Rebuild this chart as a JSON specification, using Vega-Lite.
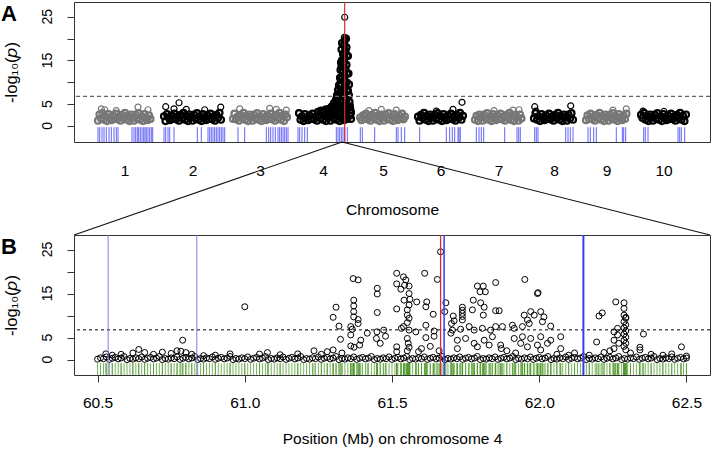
{
"$schema": "https://vega.github.io/schema/vega-lite/v6.json",
"padding": {"left": 0, "top": 0, "right": 1, "bottom": 4},
"background": "white",
"spacing": 93,
"bounds": "flush",
"resolve": {"scale": {"color": "independent", "strokeWidth": "independent"}},
"config": {
 "font": "Liberation Sans",
 "view": {"stroke": "#333", "strokeWidth": 1},
 "axis": {"grid": false, "domain": false, "labelColor": "#000", "titleColor": "#000", "tickColor": "#333", "labelFontSize": 15.5, "titleFontSize": 15.5, "titleFontWeight": "normal", "tickSize": 7, "labelFlush": false, "labelOverlap": false},
 "axisX": {"labelBaseline": "top"},
 "axisY": {"tickCount": 6, "labels": false, "titleX": -63, "titleBaseline": "middle", "titleAngle": -90, "titleFontSize": 16.5},
 "title": {"anchor": "start", "frame": "group", "fontSize": 22, "fontWeight": "bold", "color": "#000", "dx": -73, "dy": 22, "offset": -3, "baseline": "top"}
},
"datasets": {
 "yLabels": [{"v": 0, "t": "0"}, {"v": 5, "t": "5"}, {"v": 15, "t": "15"}, {"v": 25, "t": "25"}],
 "gwasBulk": [
  {"x":24,"y":1.2,"c":1},{"x":25.5,"y":2.6,"c":1},{"x":27,"y":1.7,"c":1},{"x":28.5,"y":2.9,"c":1},{"x":30,"y":1.4,"c":1},{"x":31.5,"y":2.2,"c":1},{"x":33,"y":1.1,"c":1},{"x":34.5,"y":2.7,"c":1},{"x":36,"y":1.9,"c":1},{"x":37.5,"y":1.3,"c":1},{"x":39,"y":2.4,"c":1},{"x":40.5,"y":1.6,"c":1},{"x":42,"y":2.8,"c":1},{"x":43.5,"y":1.5,"c":1},{"x":45,"y":2.1,"c":1},{"x":46.5,"y":1.2,"c":1},{"x":48,"y":2.5,"c":1},{"x":49.5,"y":1.8,"c":1},{"x":51,"y":3.0,"c":1},{"x":52.5,"y":1.4,"c":1},{"x":54,"y":2.3,"c":1},{"x":55.5,"y":1.1,"c":1},{"x":57,"y":2.6,"c":1},{"x":58.5,"y":2.0,"c":1},{"x":60,"y":1.2,"c":1},{"x":61.5,"y":2.6,"c":1},{"x":63,"y":1.7,"c":1},{"x":64.5,"y":2.9,"c":1},{"x":66,"y":1.4,"c":1},{"x":67.5,"y":2.2,"c":1},{"x":69,"y":1.1,"c":1},{"x":70.5,"y":2.7,"c":1},{"x":72,"y":1.9,"c":1},{"x":73.5,"y":1.3,"c":1},{"x":75,"y":2.4,"c":1},{"x":76.5,"y":1.6,"c":1},
  {"x":90,"y":2.2,"c":2},{"x":91.5,"y":1.1,"c":2},{"x":93,"y":2.7,"c":2},{"x":94.5,"y":1.9,"c":2},{"x":96,"y":1.3,"c":2},{"x":97.5,"y":2.4,"c":2},{"x":99,"y":1.6,"c":2},{"x":100.5,"y":2.8,"c":2},{"x":102,"y":1.5,"c":2},{"x":103.5,"y":2.1,"c":2},{"x":105,"y":1.2,"c":2},{"x":106.5,"y":2.5,"c":2},{"x":108,"y":1.8,"c":2},{"x":109.5,"y":3.0,"c":2},{"x":111,"y":1.4,"c":2},{"x":112.5,"y":2.3,"c":2},{"x":114,"y":1.1,"c":2},{"x":115.5,"y":2.6,"c":2},{"x":117,"y":2.0,"c":2},{"x":118.5,"y":1.2,"c":2},{"x":120,"y":2.6,"c":2},{"x":121.5,"y":1.7,"c":2},{"x":123,"y":2.9,"c":2},{"x":124.5,"y":1.4,"c":2},{"x":126,"y":2.2,"c":2},{"x":127.5,"y":1.1,"c":2},{"x":129,"y":2.7,"c":2},{"x":130.5,"y":1.9,"c":2},{"x":132,"y":1.3,"c":2},{"x":133.5,"y":2.4,"c":2},{"x":135,"y":1.6,"c":2},{"x":136.5,"y":2.8,"c":2},{"x":138,"y":1.5,"c":2},{"x":139.5,"y":2.1,"c":2},{"x":141,"y":1.2,"c":2},{"x":142.5,"y":2.5,"c":2},{"x":144,"y":1.8,"c":2},{"x":145.5,"y":3.0,"c":2},{"x":147,"y":1.4,"c":2},
  {"x":159,"y":1.6,"c":3},{"x":160.5,"y":2.8,"c":3},{"x":162,"y":1.5,"c":3},{"x":163.5,"y":2.1,"c":3},{"x":165,"y":1.2,"c":3},{"x":166.5,"y":2.5,"c":3},{"x":168,"y":1.8,"c":3},{"x":169.5,"y":3.0,"c":3},{"x":171,"y":1.4,"c":3},{"x":172.5,"y":2.3,"c":3},{"x":174,"y":1.1,"c":3},{"x":175.5,"y":2.6,"c":3},{"x":177,"y":2.0,"c":3},{"x":178.5,"y":1.2,"c":3},{"x":180,"y":2.6,"c":3},{"x":181.5,"y":1.7,"c":3},{"x":183,"y":2.9,"c":3},{"x":184.5,"y":1.4,"c":3},{"x":186,"y":2.2,"c":3},{"x":187.5,"y":1.1,"c":3},{"x":189,"y":2.7,"c":3},{"x":190.5,"y":1.9,"c":3},{"x":192,"y":1.3,"c":3},{"x":193.5,"y":2.4,"c":3},{"x":195,"y":1.6,"c":3},{"x":196.5,"y":2.8,"c":3},{"x":198,"y":1.5,"c":3},{"x":199.5,"y":2.1,"c":3},{"x":201,"y":1.2,"c":3},{"x":202.5,"y":2.5,"c":3},{"x":204,"y":1.8,"c":3},{"x":205.5,"y":3.0,"c":3},{"x":207,"y":1.4,"c":3},{"x":208.5,"y":2.3,"c":3},{"x":210,"y":1.1,"c":3},{"x":211.5,"y":2.6,"c":3},{"x":213,"y":2.0,"c":3},
  {"x":225,"y":2.9,"c":4},{"x":226.5,"y":1.4,"c":4},{"x":228,"y":2.2,"c":4},{"x":229.5,"y":1.1,"c":4},{"x":231,"y":2.7,"c":4},{"x":232.5,"y":1.9,"c":4},{"x":234,"y":1.3,"c":4},{"x":235.5,"y":2.4,"c":4},{"x":237,"y":1.6,"c":4},{"x":238.5,"y":2.8,"c":4},{"x":240,"y":1.5,"c":4},{"x":241.5,"y":2.1,"c":4},{"x":243,"y":1.2,"c":4},{"x":244.5,"y":2.5,"c":4},{"x":246,"y":1.8,"c":4},{"x":247.5,"y":3.0,"c":4},{"x":249,"y":1.4,"c":4},{"x":250.5,"y":2.3,"c":4},{"x":252,"y":1.1,"c":4},{"x":253.5,"y":2.6,"c":4},{"x":255,"y":2.0,"c":4},{"x":256.5,"y":1.2,"c":4},{"x":258,"y":2.6,"c":4},{"x":259.5,"y":1.7,"c":4},{"x":261,"y":2.9,"c":4},{"x":262.5,"y":1.4,"c":4},{"x":264,"y":2.2,"c":4},{"x":265.5,"y":1.1,"c":4},{"x":267,"y":2.7,"c":4},{"x":268.5,"y":1.9,"c":4},{"x":270,"y":1.3,"c":4},{"x":271.5,"y":2.4,"c":4},{"x":273,"y":1.6,"c":4},
  {"x":244,"y":3.2,"c":4},{"x":247,"y":3.5,"c":4},{"x":250,"y":3.3,"c":4},{"x":252,"y":3.8,"c":4},{"x":254,"y":3.4,"c":4},{"x":256,"y":4.0,"c":4},{"x":257.5,"y":3.6,"c":4},
  {"x":258,"y":4.5,"c":4},{"x":259,"y":3.8,"c":4},{"x":260,"y":5.2,"c":4},{"x":261,"y":4.4,"c":4},{"x":262,"y":6.0,"c":4},{"x":262.5,"y":5.0,"c":4},{"x":263,"y":7.0,"c":4},{"x":263.5,"y":5.8,"c":4},{"x":264,"y":8.2,"c":4},{"x":264.5,"y":6.8,"c":4},{"x":265,"y":9.3,"c":4},{"x":265.5,"y":7.5,"c":4},{"x":266,"y":11.0,"c":4},{"x":266,"y":9.5,"c":4},{"x":266.5,"y":12.8,"c":4},{"x":266.5,"y":8.0,"c":4},{"x":267,"y":14.5,"c":4},{"x":267,"y":6.0,"c":4},{"x":259,"y":2.5,"c":4},{"x":261,"y":3.2,"c":4},{"x":263,"y":3.6,"c":4},{"x":264,"y":4.4,"c":4},{"x":265,"y":3.0,"c":4},{"x":266,"y":4.2,"c":4},
  {"x":268,"y":3.0,"c":4},{"x":270.5,"y":3.5,"c":4},{"x":273,"y":4.0,"c":4},{"x":269,"y":4.5,"c":4},{"x":271.5,"y":5.0,"c":4},{"x":267.5,"y":5.5,"c":4},{"x":272.5,"y":6.0,"c":4},{"x":270,"y":6.5,"c":4},{"x":268,"y":7.0,"c":4},{"x":270.5,"y":7.5,"c":4},{"x":273,"y":8.0,"c":4},{"x":269,"y":8.5,"c":4},{"x":271.5,"y":9.0,"c":4},{"x":267.5,"y":9.5,"c":4},{"x":272.5,"y":10.0,"c":4},{"x":270,"y":10.5,"c":4},{"x":268,"y":11.0,"c":4},{"x":270.5,"y":11.5,"c":4},{"x":273,"y":12.0,"c":4},{"x":269,"y":12.5,"c":4},{"x":271.5,"y":13.0,"c":4},{"x":267.5,"y":13.5,"c":4},{"x":272.5,"y":14.0,"c":4},{"x":270,"y":14.5,"c":4},{"x":268,"y":15.0,"c":4},{"x":270.5,"y":15.5,"c":4},{"x":273,"y":16.0,"c":4},{"x":269,"y":16.5,"c":4},{"x":271.5,"y":17.0,"c":4},{"x":267.5,"y":17.5,"c":4},{"x":272.5,"y":18.0,"c":4},{"x":270,"y":18.5,"c":4},{"x":268,"y":19.0,"c":4},{"x":270.5,"y":19.5,"c":4},{"x":272,"y":20.0,"c":4},
  {"x":274,"y":16,"c":4},{"x":274.5,"y":12,"c":4},{"x":275,"y":9.5,"c":4},{"x":275,"y":7.0,"c":4},{"x":275.5,"y":5.5,"c":4},{"x":276,"y":4.5,"c":4},{"x":276.5,"y":3.6,"c":4},{"x":277,"y":3.0,"c":4},{"x":274,"y":8,"c":4},{"x":274.5,"y":4.2,"c":4},{"x":276,"y":2.4,"c":4},{"x":277,"y":1.6,"c":4},
  {"x":286,"y":1.9,"c":5},{"x":287.5,"y":1.3,"c":5},{"x":289,"y":2.4,"c":5},{"x":290.5,"y":1.6,"c":5},{"x":292,"y":2.8,"c":5},{"x":293.5,"y":1.5,"c":5},{"x":295,"y":2.1,"c":5},{"x":296.5,"y":1.2,"c":5},{"x":298,"y":2.5,"c":5},{"x":299.5,"y":1.8,"c":5},{"x":301,"y":3.0,"c":5},{"x":302.5,"y":1.4,"c":5},{"x":304,"y":2.3,"c":5},{"x":305.5,"y":1.1,"c":5},{"x":307,"y":2.6,"c":5},{"x":308.5,"y":2.0,"c":5},{"x":310,"y":1.2,"c":5},{"x":311.5,"y":2.6,"c":5},{"x":313,"y":1.7,"c":5},{"x":314.5,"y":2.9,"c":5},{"x":316,"y":1.4,"c":5},{"x":317.5,"y":2.2,"c":5},{"x":319,"y":1.1,"c":5},{"x":320.5,"y":2.7,"c":5},{"x":322,"y":1.9,"c":5},{"x":323.5,"y":1.3,"c":5},{"x":325,"y":2.4,"c":5},{"x":326.5,"y":1.6,"c":5},{"x":328,"y":2.8,"c":5},{"x":329.5,"y":1.5,"c":5},{"x":331,"y":2.1,"c":5},
  {"x":344,"y":2.1,"c":6},{"x":345.5,"y":1.2,"c":6},{"x":347,"y":2.5,"c":6},{"x":348.5,"y":1.8,"c":6},{"x":350,"y":3.0,"c":6},{"x":351.5,"y":1.4,"c":6},{"x":353,"y":2.3,"c":6},{"x":354.5,"y":1.1,"c":6},{"x":356,"y":2.6,"c":6},{"x":357.5,"y":2.0,"c":6},{"x":359,"y":1.2,"c":6},{"x":360.5,"y":2.6,"c":6},{"x":362,"y":1.7,"c":6},{"x":363.5,"y":2.9,"c":6},{"x":365,"y":1.4,"c":6},{"x":366.5,"y":2.2,"c":6},{"x":368,"y":1.1,"c":6},{"x":369.5,"y":2.7,"c":6},{"x":371,"y":1.9,"c":6},{"x":372.5,"y":1.3,"c":6},{"x":374,"y":2.4,"c":6},{"x":375.5,"y":1.6,"c":6},{"x":377,"y":2.8,"c":6},{"x":378.5,"y":1.5,"c":6},{"x":380,"y":2.1,"c":6},{"x":381.5,"y":1.2,"c":6},{"x":383,"y":2.5,"c":6},{"x":384.5,"y":1.8,"c":6},{"x":386,"y":3.0,"c":6},{"x":387.5,"y":1.4,"c":6},{"x":389,"y":2.3,"c":6},
  {"x":401,"y":1.4,"c":7},{"x":402.5,"y":2.3,"c":7},{"x":404,"y":1.1,"c":7},{"x":405.5,"y":2.6,"c":7},{"x":407,"y":2.0,"c":7},{"x":408.5,"y":1.2,"c":7},{"x":410,"y":2.6,"c":7},{"x":411.5,"y":1.7,"c":7},{"x":413,"y":2.9,"c":7},{"x":414.5,"y":1.4,"c":7},{"x":416,"y":2.2,"c":7},{"x":417.5,"y":1.1,"c":7},{"x":419,"y":2.7,"c":7},{"x":420.5,"y":1.9,"c":7},{"x":422,"y":1.3,"c":7},{"x":423.5,"y":2.4,"c":7},{"x":425,"y":1.6,"c":7},{"x":426.5,"y":2.8,"c":7},{"x":428,"y":1.5,"c":7},{"x":429.5,"y":2.1,"c":7},{"x":431,"y":1.2,"c":7},{"x":432.5,"y":2.5,"c":7},{"x":434,"y":1.8,"c":7},{"x":435.5,"y":3.0,"c":7},{"x":437,"y":1.4,"c":7},{"x":438.5,"y":2.3,"c":7},{"x":440,"y":1.1,"c":7},{"x":441.5,"y":2.6,"c":7},{"x":443,"y":2.0,"c":7},{"x":444.5,"y":1.2,"c":7},{"x":446,"y":2.6,"c":7},{"x":447.5,"y":1.7,"c":7},
  {"x":460,"y":1.7,"c":8},{"x":461.5,"y":2.9,"c":8},{"x":463,"y":1.4,"c":8},{"x":464.5,"y":2.2,"c":8},{"x":466,"y":1.1,"c":8},{"x":467.5,"y":2.7,"c":8},{"x":469,"y":1.9,"c":8},{"x":470.5,"y":1.3,"c":8},{"x":472,"y":2.4,"c":8},{"x":473.5,"y":1.6,"c":8},{"x":475,"y":2.8,"c":8},{"x":476.5,"y":1.5,"c":8},{"x":478,"y":2.1,"c":8},{"x":479.5,"y":1.2,"c":8},{"x":481,"y":2.5,"c":8},{"x":482.5,"y":1.8,"c":8},{"x":484,"y":3.0,"c":8},{"x":485.5,"y":1.4,"c":8},{"x":487,"y":2.3,"c":8},{"x":488.5,"y":1.1,"c":8},{"x":490,"y":2.6,"c":8},{"x":491.5,"y":2.0,"c":8},{"x":493,"y":1.2,"c":8},{"x":494.5,"y":2.6,"c":8},{"x":496,"y":1.7,"c":8},{"x":497.5,"y":2.9,"c":8},{"x":499,"y":1.4,"c":8},
  {"x":512,"y":1.3,"c":9},{"x":513.5,"y":2.4,"c":9},{"x":515,"y":1.6,"c":9},{"x":516.5,"y":2.8,"c":9},{"x":518,"y":1.5,"c":9},{"x":519.5,"y":2.1,"c":9},{"x":521,"y":1.2,"c":9},{"x":522.5,"y":2.5,"c":9},{"x":524,"y":1.8,"c":9},{"x":525.5,"y":3.0,"c":9},{"x":527,"y":1.4,"c":9},{"x":528.5,"y":2.3,"c":9},{"x":530,"y":1.1,"c":9},{"x":531.5,"y":2.6,"c":9},{"x":533,"y":2.0,"c":9},{"x":534.5,"y":1.2,"c":9},{"x":536,"y":2.6,"c":9},{"x":537.5,"y":1.7,"c":9},{"x":539,"y":2.9,"c":9},{"x":540.5,"y":1.4,"c":9},{"x":542,"y":2.2,"c":9},{"x":543.5,"y":1.1,"c":9},{"x":545,"y":2.7,"c":9},{"x":546.5,"y":1.9,"c":9},{"x":548,"y":1.3,"c":9},{"x":549.5,"y":2.4,"c":9},{"x":551,"y":1.6,"c":9},{"x":552.5,"y":2.8,"c":9},
  {"x":567,"y":2.5,"c":10},{"x":568.5,"y":1.8,"c":10},{"x":570,"y":3.0,"c":10},{"x":571.5,"y":1.4,"c":10},{"x":573,"y":2.3,"c":10},{"x":574.5,"y":1.1,"c":10},{"x":576,"y":2.6,"c":10},{"x":577.5,"y":2.0,"c":10},{"x":579,"y":1.2,"c":10},{"x":580.5,"y":2.6,"c":10},{"x":582,"y":1.7,"c":10},{"x":583.5,"y":2.9,"c":10},{"x":585,"y":1.4,"c":10},{"x":586.5,"y":2.2,"c":10},{"x":588,"y":1.1,"c":10},{"x":589.5,"y":2.7,"c":10},{"x":591,"y":1.9,"c":10},{"x":592.5,"y":1.3,"c":10},{"x":594,"y":2.4,"c":10},{"x":595.5,"y":1.6,"c":10},{"x":597,"y":2.8,"c":10},{"x":598.5,"y":1.5,"c":10},{"x":600,"y":2.1,"c":10},{"x":601.5,"y":1.2,"c":10},{"x":603,"y":2.5,"c":10},{"x":604.5,"y":1.8,"c":10},{"x":606,"y":3.0,"c":10},{"x":607.5,"y":1.4,"c":10},{"x":609,"y":2.3,"c":10},{"x":610.5,"y":1.1,"c":10},{"x":612,"y":2.6,"c":10}
 ],
 "gwasTop": [
  {"x":27.3,"y":3.9,"c":1},{"x":30.7,"y":3.7,"c":1},{"x":42.3,"y":3.5,"c":1},{"x":64,"y":4.3,"c":1},{"x":74,"y":3.7,"c":1},
  {"x":91.7,"y":4.4,"c":2},{"x":100,"y":3.9,"c":2},{"x":105,"y":5.3,"c":2},{"x":112.3,"y":3.8,"c":2},{"x":130.7,"y":3.7,"c":2},{"x":146.7,"y":4.3,"c":2},
  {"x":165.7,"y":3.9,"c":3},{"x":195.7,"y":4.0,"c":3},{"x":202.3,"y":3.8,"c":3},{"x":212.3,"y":3.6,"c":3},
  {"x":270.7,"y":24.9,"c":4},{"x":270.3,"y":20.3,"c":4},{"x":271,"y":19.8,"c":4},{"x":270.5,"y":18.9,"c":4},{"x":270.8,"y":17.5,"c":4},{"x":270.2,"y":16.0,"c":4},
  {"x":295,"y":3.5,"c":5},{"x":307.3,"y":3.8,"c":5},{"x":322.3,"y":3.6,"c":5},
  {"x":362.3,"y":3.4,"c":6},{"x":379,"y":3.8,"c":6},{"x":388,"y":5.4,"c":6},
  {"x":420,"y":3.5,"c":7},{"x":439,"y":3.6,"c":7},{"x":445,"y":3.7,"c":7},
  {"x":460.7,"y":4.4,"c":8},{"x":462,"y":3.4,"c":8},{"x":496.7,"y":4.6,"c":8},
  {"x":539,"y":3.6,"c":9},{"x":552.3,"y":3.9,"c":9},
  {"x":569,"y":3.4,"c":10},{"x":590,"y":3.3,"c":10}
 ],
 "genesA": [
  {"x":24},{"x":25.7},{"x":28},{"x":30},{"x":32.3},{"x":35},{"x":37.3},{"x":40},{"x":42.3},{"x":44},
  {"x":58},{"x":60},{"x":61.7},{"x":63.3},{"x":64.7},{"x":66.3},{"x":68},{"x":69.7},{"x":71},{"x":72.3},{"x":74},{"x":75.7},{"x":77.3},{"x":78.7},
  {"x":90},{"x":91.7},{"x":94},{"x":95.7},{"x":100},{"x":123.3},{"x":127.3},
  {"x":134},{"x":135.7},{"x":137.3},{"x":139},{"x":140.7},{"x":142.3},{"x":144},{"x":145.7},{"x":147.3},{"x":149},{"x":150.7},
  {"x":164},{"x":170.7},
  {"x":192.3},{"x":194.7},{"x":196.7},{"x":199},{"x":201.3},{"x":204},{"x":205.7},{"x":207.3},{"x":209},{"x":210.7},{"x":212.3},{"x":214},
  {"x":224},{"x":225.7},{"x":228},{"x":230.7},{"x":233.3},
  {"x":262.3},{"x":264},{"x":265.7},{"x":267.3},{"x":269},{"x":270.7},{"x":273.3},
  {"x":286.3},{"x":288.3},{"x":300.7},{"x":322.3},{"x":324},{"x":327.3},{"x":330.7},{"x":345.7},{"x":372.3},{"x":375.7},{"x":378.3},{"x":380.7},{"x":384},{"x":385},{"x":386.3},{"x":402.3},{"x":405},{"x":407.3},{"x":409.7},{"x":430.7},{"x":443},{"x":444.7},{"x":446.3},{"x":460.7},{"x":462.3},{"x":464},{"x":491.7},{"x":494},{"x":496.3},{"x":499},{"x":514},{"x":516.3},{"x":519.7},{"x":522.3},{"x":542.3},{"x":548.3},{"x":549.7},{"x":551.7},{"x":569.7},{"x":571.3},{"x":574},{"x":604},{"x":605.7},{"x":607.3},{"x":610.7}
 ],
 "zoomLines": [
  {"x0":268,"y0":-3.7,"x1":0,"y1":-25.02},
  {"x0":268,"y0":-3.7,"x1":636,"y1":-25.02}
 ],
 "linesB": [
  {"p":60.536,"k":"minor"},{"p":60.837,"k":"minor"},{"p":61.677,"k":"major"},{"p":62.15,"k":"main"}
 ],
 "snps": [
  {"p":60.5,"y":0.1},{"p":60.51,"y":0.4},{"p":60.52,"y":0.2},{"p":60.53,"y":0.6},{"p":60.54,"y":0.05},{"p":60.55,"y":0.3},{"p":60.56,"y":0.5},{"p":60.57,"y":0.15},{"p":60.58,"y":0.35},{"p":60.59,"y":0.7},{"p":60.6,"y":0},{"p":60.61,"y":0.25},
  {"p":60.62,"y":0.1},{"p":60.63,"y":0.4},{"p":60.64,"y":0.2},{"p":60.65,"y":0.6},{"p":60.66,"y":0.05},{"p":60.67,"y":0.3},{"p":60.68,"y":0.5},{"p":60.69,"y":0.15},{"p":60.7,"y":0.35},{"p":60.71,"y":0.7},{"p":60.72,"y":0},{"p":60.73,"y":0.25},
  {"p":60.74,"y":0.1},{"p":60.75,"y":0.4},{"p":60.76,"y":0.2},{"p":60.77,"y":0.6},{"p":60.78,"y":0.05},{"p":60.79,"y":0.3},{"p":60.8,"y":0.5},{"p":60.81,"y":0.15},{"p":60.82,"y":0.35},{"p":60.83,"y":0.7},{"p":60.84,"y":0},{"p":60.85,"y":0.25},
  {"p":60.86,"y":0.1},{"p":60.87,"y":0.4},{"p":60.88,"y":0.2},{"p":60.89,"y":0.6},{"p":60.9,"y":0.05},{"p":60.91,"y":0.3},{"p":60.92,"y":0.5},{"p":60.93,"y":0.15},{"p":60.94,"y":0.35},{"p":60.95,"y":0.7},{"p":60.96,"y":0},{"p":60.97,"y":0.25},
  {"p":60.98,"y":0.1},{"p":60.99,"y":0.4},{"p":61.0,"y":0.2},{"p":61.01,"y":0.6},{"p":61.02,"y":0.05},{"p":61.03,"y":0.3},{"p":61.04,"y":0.5},{"p":61.05,"y":0.15},{"p":61.06,"y":0.35},{"p":61.07,"y":0.7},{"p":61.08,"y":0},{"p":61.09,"y":0.25},
  {"p":61.1,"y":0.1},{"p":61.11,"y":0.4},{"p":61.12,"y":0.2},{"p":61.13,"y":0.6},{"p":61.14,"y":0.05},{"p":61.15,"y":0.3},{"p":61.16,"y":0.5},{"p":61.17,"y":0.15},{"p":61.18,"y":0.35},{"p":61.19,"y":0.7},{"p":61.2,"y":0},{"p":61.21,"y":0.25},
  {"p":61.22,"y":0.1},{"p":61.23,"y":0.4},{"p":61.24,"y":0.2},{"p":61.25,"y":0.6},{"p":61.26,"y":0.05},{"p":61.27,"y":0.3},{"p":61.28,"y":0.5},{"p":61.29,"y":0.15},{"p":61.3,"y":0.35},{"p":61.31,"y":0.7},{"p":61.32,"y":0},{"p":61.33,"y":0.25},
  {"p":61.34,"y":0.1},{"p":61.35,"y":0.4},{"p":61.36,"y":0.2},{"p":61.37,"y":0.6},{"p":61.38,"y":0.05},{"p":61.39,"y":0.3},{"p":61.4,"y":0.5},{"p":61.41,"y":0.15},{"p":61.42,"y":0.35},{"p":61.43,"y":0.7},{"p":61.44,"y":0},{"p":61.45,"y":0.25},
  {"p":61.46,"y":0.1},{"p":61.47,"y":0.4},{"p":61.48,"y":0.2},{"p":61.49,"y":0.6},{"p":61.5,"y":0.05},{"p":61.51,"y":0.3},{"p":61.52,"y":0.5},{"p":61.53,"y":0.15},{"p":61.54,"y":0.35},{"p":61.55,"y":0.7},{"p":61.56,"y":0},{"p":61.57,"y":0.25},
  {"p":61.58,"y":0.1},{"p":61.59,"y":0.4},{"p":61.6,"y":0.2},{"p":61.61,"y":0.6},{"p":61.62,"y":0.05},{"p":61.63,"y":0.3},{"p":61.64,"y":0.5},{"p":61.65,"y":0.15},{"p":61.66,"y":0.35},{"p":61.67,"y":0.7},{"p":61.68,"y":0},{"p":61.69,"y":0.25},
  {"p":61.7,"y":0.1},{"p":61.71,"y":0.4},{"p":61.72,"y":0.2},{"p":61.73,"y":0.6},{"p":61.74,"y":0.05},{"p":61.75,"y":0.3},{"p":61.76,"y":0.5},{"p":61.77,"y":0.15},{"p":61.78,"y":0.35},{"p":61.79,"y":0.7},{"p":61.8,"y":0},{"p":61.81,"y":0.25},
  {"p":61.82,"y":0.1},{"p":61.83,"y":0.4},{"p":61.84,"y":0.2},{"p":61.85,"y":0.6},{"p":61.86,"y":0.05},{"p":61.87,"y":0.3},{"p":61.88,"y":0.5},{"p":61.89,"y":0.15},{"p":61.9,"y":0.35},{"p":61.91,"y":0.7},{"p":61.92,"y":0},{"p":61.93,"y":0.25},
  {"p":61.94,"y":0.1},{"p":61.95,"y":0.4},{"p":61.96,"y":0.2},{"p":61.97,"y":0.6},{"p":61.98,"y":0.05},{"p":61.99,"y":0.3},{"p":62.0,"y":0.5},{"p":62.01,"y":0.15},{"p":62.02,"y":0.35},{"p":62.03,"y":0.7},{"p":62.04,"y":0},{"p":62.05,"y":0.25},
  {"p":62.06,"y":0.1},{"p":62.07,"y":0.4},{"p":62.08,"y":0.2},{"p":62.09,"y":0.6},{"p":62.1,"y":0.05},{"p":62.11,"y":0.3},{"p":62.12,"y":0.5},{"p":62.13,"y":0.15},{"p":62.14,"y":0.35},{"p":62.15,"y":0.7},{"p":62.16,"y":0},{"p":62.17,"y":0.25},
  {"p":62.18,"y":0.1},{"p":62.19,"y":0.4},{"p":62.2,"y":0.2},{"p":62.21,"y":0.6},{"p":62.22,"y":0.05},{"p":62.23,"y":0.3},{"p":62.24,"y":0.5},{"p":62.25,"y":0.15},{"p":62.26,"y":0.35},{"p":62.27,"y":0.7},{"p":62.28,"y":0},{"p":62.29,"y":0.25},
  {"p":62.3,"y":0.1},{"p":62.31,"y":0.4},{"p":62.32,"y":0.2},{"p":62.33,"y":0.6},{"p":62.34,"y":0.05},{"p":62.35,"y":0.3},{"p":62.36,"y":0.5},{"p":62.37,"y":0.15},{"p":62.38,"y":0.35},{"p":62.39,"y":0.7},{"p":62.4,"y":0},{"p":62.41,"y":0.25},
  {"p":62.42,"y":0.1},{"p":62.43,"y":0.4},{"p":62.44,"y":0.2},{"p":62.45,"y":0.6},{"p":62.46,"y":0.05},{"p":62.47,"y":0.3},{"p":62.48,"y":0.5},{"p":62.49,"y":0.15},{"p":62.5,"y":0.35},
  {"p":60.528,"y":1.3},{"p":60.55,"y":1.0},{"p":60.58,"y":1.2},{"p":60.62,"y":1.5},{"p":60.64,"y":2.3},{"p":60.66,"y":1.6},{"p":60.69,"y":1.2},{"p":60.72,"y":1.7},{"p":60.75,"y":1.4},{"p":60.77,"y":2.0},{"p":60.783,"y":1.9},{"p":60.789,"y":4.4},{"p":60.8,"y":1.6},{"p":60.82,"y":1.2},{"p":60.86,"y":0.9},{"p":60.9,"y":1.0},{"p":60.95,"y":1.3},{"p":61.05,"y":1.25},{"p":61.077,"y":1.6},{"p":61.12,"y":1.1},{"p":61.18,"y":1.3},{"p":61.235,"y":2.0},{"p":61.26,"y":1.2},{"p":61.28,"y":1.8},{"p":61.33,"y":1.5},
  {"p":61.0,"y":12.0},{"p":61.368,"y":18.4},{"p":61.385,"y":18.1},{"p":61.45,"y":16.2},{"p":61.45,"y":14.9},{"p":61.516,"y":19.6},{"p":61.516,"y":17.2},{"p":61.37,"y":13.5},{"p":61.37,"y":12.2},{"p":61.37,"y":10.9},{"p":61.37,"y":9.7},{"p":61.385,"y":9.1},{"p":61.385,"y":8.2},{"p":61.31,"y":11.9},{"p":61.3,"y":9.6},{"p":61.32,"y":7.6},{"p":61.36,"y":7.5},{"p":61.365,"y":6.9},{"p":61.36,"y":5.6},{"p":61.325,"y":4.6},{"p":61.394,"y":4.4},{"p":61.416,"y":6.0},{"p":61.45,"y":10.7},{"p":61.449,"y":6.3},{"p":61.472,"y":6.7},{"p":61.478,"y":5.3},{"p":61.447,"y":4.8},{"p":61.46,"y":3.7},{"p":61.516,"y":11.5},{"p":61.516,"y":2.9},{"p":61.516,"y":1.8},{"p":61.36,"y":3.1},{"p":61.371,"y":2.8},{"p":61.39,"y":3.3},{"p":61.3,"y":2.2},
  {"p":61.665,"y":24.5},{"p":61.654,"y":18.2},{"p":61.611,"y":19.6},{"p":61.539,"y":18.8},{"p":61.547,"y":18.1},{"p":61.543,"y":16.9},{"p":61.53,"y":16.0},{"p":61.558,"y":16.7},{"p":61.558,"y":15.0},{"p":61.561,"y":13.7},{"p":61.541,"y":13.5},{"p":61.584,"y":13.1},{"p":61.558,"y":12.4},{"p":61.552,"y":11.3},{"p":61.552,"y":10.1},{"p":61.558,"y":9.4},{"p":61.552,"y":8.4},{"p":61.539,"y":7.5},{"p":61.558,"y":6.7},{"p":61.581,"y":6.3},{"p":61.552,"y":4.8},{"p":61.555,"y":3.7},{"p":61.558,"y":2.8},{"p":61.552,"y":2.0},{"p":61.618,"y":13.1},{"p":61.615,"y":12.0},{"p":61.615,"y":7.8},{"p":61.64,"y":10.3},{"p":61.643,"y":6.5},{"p":61.615,"y":5.0},{"p":61.643,"y":5.3},{"p":61.532,"y":7.1},{"p":61.6,"y":2.5},{"p":61.63,"y":3.0},{"p":61.59,"y":1.8},{"p":61.66,"y":2.0},
  {"p":61.683,"y":12.9},{"p":61.679,"y":10.9},{"p":61.708,"y":9.9},{"p":61.702,"y":8.2},{"p":61.705,"y":6.7},{"p":61.7,"y":6.0},{"p":61.739,"y":11.9},{"p":61.739,"y":11.2},{"p":61.739,"y":10.5},{"p":61.739,"y":9.8},{"p":61.739,"y":9.0},{"p":61.776,"y":13.5},{"p":61.79,"y":16.7},{"p":61.81,"y":16.7},{"p":61.799,"y":15.4},{"p":61.817,"y":15.4},{"p":61.852,"y":17.5},{"p":61.773,"y":11.3},{"p":61.801,"y":12.9},{"p":61.813,"y":11.9},{"p":61.81,"y":10.1},{"p":61.852,"y":11.1},{"p":61.864,"y":11.1},{"p":61.711,"y":8.8},{"p":61.733,"y":6.9},{"p":61.762,"y":7.5},{"p":61.779,"y":6.7},{"p":61.807,"y":7.1},{"p":61.835,"y":6.7},{"p":61.852,"y":7.5},{"p":61.875,"y":7.5},{"p":61.722,"y":4.4},{"p":61.75,"y":4.8},{"p":61.779,"y":3.7},{"p":61.813,"y":4.4},{"p":61.841,"y":5.2},{"p":61.869,"y":3.3},{"p":61.722,"y":2.5},{"p":61.79,"y":2.9},{"p":61.83,"y":3.3},{"p":61.871,"y":2.5},
  {"p":61.951,"y":18.2},{"p":61.994,"y":15.0},{"p":61.996,"y":15.2},{"p":61.971,"y":10.9},{"p":62.005,"y":10.9},{"p":61.949,"y":10.1},{"p":61.983,"y":10.1},{"p":62.016,"y":9.7},{"p":61.96,"y":9.0},{"p":62.011,"y":8.6},{"p":61.909,"y":7.8},{"p":61.943,"y":7.5},{"p":61.966,"y":8.2},{"p":62.039,"y":7.6},{"p":61.915,"y":7.1},{"p":61.915,"y":4.8},{"p":61.943,"y":5.2},{"p":61.971,"y":4.8},{"p":62.005,"y":5.2},{"p":62.039,"y":4.4},{"p":61.937,"y":3.7},{"p":61.994,"y":3.3},{"p":62.028,"y":3.7},{"p":61.96,"y":2.9},{"p":62.005,"y":2.2},{"p":61.89,"y":2.0},{"p":61.92,"y":1.5},
  {"p":62.26,"y":13.1},{"p":62.288,"y":12.9},{"p":62.288,"y":11.6},{"p":62.203,"y":9.9},{"p":62.214,"y":10.6},{"p":62.288,"y":10.1},{"p":62.294,"y":9.4},{"p":62.288,"y":8.6},{"p":62.294,"y":7.9},{"p":62.288,"y":7.2},{"p":62.294,"y":6.5},{"p":62.288,"y":5.8},{"p":62.294,"y":5.1},{"p":62.288,"y":4.4},{"p":62.294,"y":3.7},{"p":62.288,"y":3.0},{"p":62.294,"y":2.2},{"p":62.266,"y":7.1},{"p":62.254,"y":6.3},{"p":62.266,"y":5.6},{"p":62.254,"y":4.4},{"p":62.27,"y":3.7},{"p":62.254,"y":2.5},{"p":62.294,"y":9.6},{"p":62.354,"y":5.8},{"p":62.195,"y":4.0},{"p":62.342,"y":2.8},{"p":62.342,"y":2.2},{"p":62.483,"y":2.9},{"p":62.073,"y":5.2},{"p":62.073,"y":2.5},{"p":62.5,"y":0.8},
  {"p":62.06,"y":1.2},{"p":62.1,"y":1.0},{"p":62.12,"y":1.5},{"p":62.17,"y":1.0},{"p":62.22,"y":1.6},{"p":62.24,"y":2.0},{"p":62.31,"y":1.5},{"p":62.38,"y":1.2},{"p":62.42,"y":1.0},{"p":62.45,"y":1.3}
 ]
},
"vconcat": [
 {
  "width": 636, "height": 140,
  "title": {"text": "A"},
  "layer": [
   {
    "data": {"name": "gwasBulk"},
    "mark": {"type": "point", "shape": "circle", "filled": false, "size": 36, "strokeWidth": 2.2, "opacity": 1},
    "encoding": {
     "x": {"field": "x", "type": "quantitative", "title": "Chromosome",
           "scale": {"domain": [0, 636], "nice": false, "zero": false},
           "axis": {"values": [50.5, 118.5, 186, 249, 309, 366.5, 424.5, 480, 532.5, 589.5],
                    "labelExpr": "'' + (indexof([50.5, 118.5, 186, 249, 309, 366.5, 424.5, 480, 532.5, 589.5], datum.value) + 1)",
                    "ticks": false, "tickSize": 0, "labelPadding": 21, "titlePadding": 24}},
     "y": {"field": "y", "type": "quantitative", "title": "-log₁₀(𝑝)",
           "scale": {"domain": [-3.7, 28.4], "nice": false, "zero": false}},
     "color": {"field": "c", "type": "nominal",
               "scale": {"domain": [1, 2, 3, 4, 5, 6, 7, 8, 9, 10], "range": ["#777777", "#000000", "#777777", "#000000", "#777777", "#000000", "#777777", "#000000", "#777777", "#000000"]},
               "legend": null}
    }
   },
   {
    "data": {"name": "genesA"},
    "mark": {"type": "rule", "color": "#2f2ff5", "opacity": 0.75, "strokeWidth": 1},
    "encoding": {
     "x": {"field": "x", "type": "quantitative", "title": "Chromosome"},
     "y": {"datum": -0.3, "type": "quantitative", "title": "-log₁₀(𝑝)"},
     "y2": {"datum": -3.7}
    }
   },
   {
    "data": {"name": "gwasTop"},
    "mark": {"type": "point", "shape": "circle", "filled": false, "size": 36, "strokeWidth": 1.2, "opacity": 1},
    "encoding": {
     "x": {"field": "x", "type": "quantitative", "title": "Chromosome"},
     "y": {"field": "y", "type": "quantitative", "title": "-log₁₀(𝑝)"},
     "color": {"field": "c", "type": "nominal", "legend": null}
    }
   },
   {
    "data": {"values": [{"t": 6.75}]},
    "mark": {"type": "rule", "color": "#666666", "strokeDash": [4, 3], "strokeWidth": 1.3},
    "encoding": {"y": {"field": "t", "type": "quantitative", "title": "-log₁₀(𝑝)"}}
   },
   {
    "data": {"values": [{"x": 270.7}]},
    "mark": {"type": "rule", "color": "#d0302a", "strokeWidth": 1.2},
    "encoding": {"x": {"field": "x", "type": "quantitative", "title": "Chromosome"}}
   },
   {
    "data": {"name": "yLabels"},
    "mark": {"type": "text", "angle": 270, "align": "center", "baseline": "middle", "fontSize": 14, "color": "#000000", "clip": false},
    "encoding": {
     "x": {"datum": -26, "type": "quantitative"},
     "y": {"field": "v", "type": "quantitative", "title": "-log₁₀(𝑝)"},
     "text": {"field": "t", "type": "nominal"}
    }
   },
   {
    "data": {"name": "zoomLines"},
    "mark": {"type": "rule", "color": "#111111", "strokeWidth": 1.1, "clip": false},
    "encoding": {
     "x": {"field": "x0", "type": "quantitative", "title": "Chromosome"},
     "y": {"field": "y0", "type": "quantitative", "title": "-log₁₀(𝑝)"},
     "x2": {"field": "x1"},
     "y2": {"field": "y1"}
    }
   }
  ]
 },
 {
  "width": 636, "height": 140,
  "title": {"text": "B"},
  "layer": [
   {
    "data": {"name": "snps"},
    "mark": {"type": "point", "shape": "circle", "filled": false, "size": 36, "strokeWidth": 1, "opacity": 1, "color": "#000000"},
    "encoding": {
     "x": {"field": "p", "type": "quantitative", "title": "Position (Mb) on chromosome 4",
           "scale": {"domain": [60.42, 62.58], "nice": false, "zero": false},
           "axis": {"values": [60.5, 61, 61.5, 62, 62.5], "format": ".1f", "tickSize": 7, "labelPadding": 13, "titlePadding": 21}},
     "y": {"field": "y", "type": "quantitative", "title": "-log₁₀(𝑝)",
           "scale": {"domain": [-3.5, 28.3], "nice": false, "zero": false}}
    }
   },
   {
    "data": {"name": "snps"},
    "mark": {"type": "rule", "color": "#4f9a2a", "opacity": 0.75, "strokeWidth": 1},
    "encoding": {
     "x": {"field": "p", "type": "quantitative", "title": "Position (Mb) on chromosome 4"},
     "y": {"datum": -0.8, "type": "quantitative", "title": "-log₁₀(𝑝)"},
     "y2": {"datum": -3.5}
    }
   },
   {
    "data": {"values": [{"t": 6.75}]},
    "mark": {"type": "rule", "color": "#000000", "strokeDash": [3, 3], "strokeWidth": 1},
    "encoding": {"y": {"field": "t", "type": "quantitative", "title": "-log₁₀(𝑝)"}}
   },
   {
    "data": {"values": [{"p": 61.665}]},
    "mark": {"type": "rule", "color": "#d0302a", "strokeWidth": 1.3},
    "encoding": {"x": {"field": "p", "type": "quantitative", "title": "Position (Mb) on chromosome 4"}}
   },
   {
    "data": {"name": "linesB"},
    "mark": {"type": "rule"},
    "encoding": {
     "x": {"field": "p", "type": "quantitative", "title": "Position (Mb) on chromosome 4"},
     "color": {"field": "k", "type": "nominal", "scale": {"domain": ["minor", "major", "main"], "range": ["#7c7ce8", "#3a3af0", "#3a3af0"]}, "legend": null},
     "strokeWidth": {"field": "k", "type": "ordinal", "scale": {"domain": ["minor", "major", "main"], "range": [1, 2, 3]}, "legend": null}
    }
   },
   {
    "data": {"name": "yLabels"},
    "mark": {"type": "text", "angle": 270, "align": "center", "baseline": "middle", "fontSize": 14, "color": "#000000", "clip": false},
    "encoding": {
     "x": {"datum": 60.3317, "type": "quantitative"},
     "y": {"field": "v", "type": "quantitative", "title": "-log₁₀(𝑝)"},
     "text": {"field": "t", "type": "nominal"}
    }
   }
  ]
 }
]
}
